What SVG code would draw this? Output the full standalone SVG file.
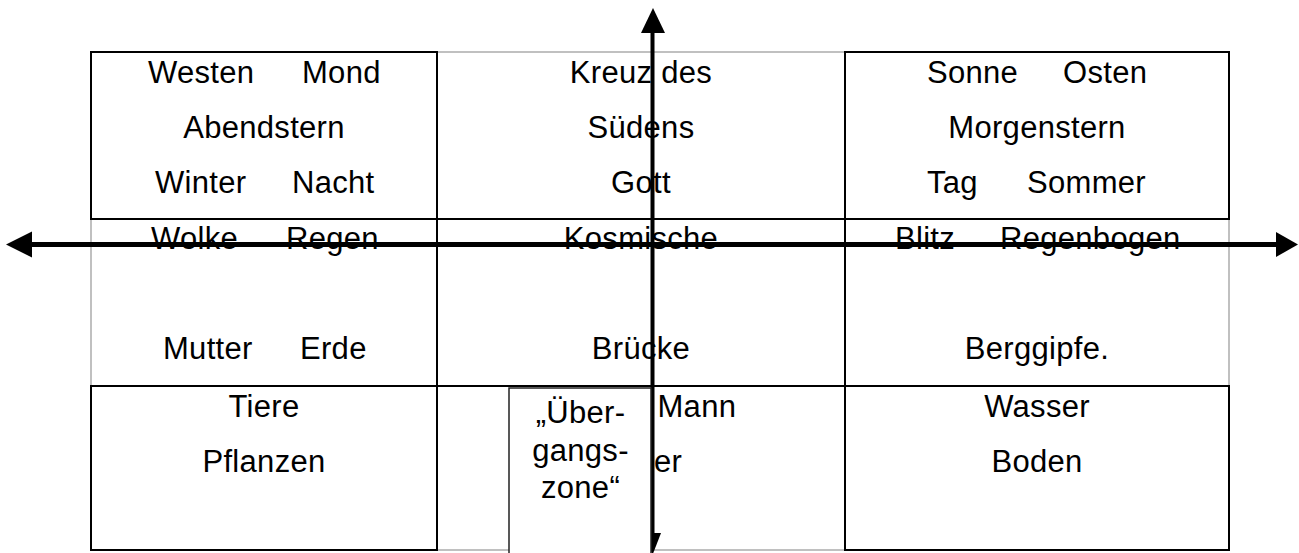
<svg xmlns="http://www.w3.org/2000/svg" width="1299" height="553" viewBox="0 0 1299 553">
<style>
  text { font-family: "Liberation Sans", Arial, sans-serif; font-size: 31px; fill: #000; letter-spacing: 0.3px; }
  .c { text-anchor: middle; }
  .box { fill: none; stroke: #000; stroke-width: 2; }
  .grid { stroke: #000; stroke-width: 2; fill: none; }
  .gray { stroke: #c0c0c0; stroke-width: 2; fill: none; }
  .axis { stroke: #000; stroke-width: 5; fill: none; }
  .vaxis { stroke: #000; stroke-width: 4; fill: none; }
  .head { fill: #000; stroke: none; }
  .zone { fill: #fff; stroke: #222; stroke-width: 1.5; }
</style>
<rect x="0" y="0" width="1299" height="553" fill="#fff"/>

<g id="table-lines">
  <line class="gray" x1="437" y1="52" x2="845" y2="52"/>
  <line class="gray" x1="437" y1="550" x2="845" y2="550"/>
  <line class="gray" x1="91" y1="219" x2="91" y2="386"/>
  <line class="gray" x1="1229" y1="219" x2="1229" y2="386"/>
  <line class="grid" x1="437" y1="52" x2="437" y2="550"/>
  <line class="grid" x1="845" y1="52" x2="845" y2="550"/>
  <line class="grid" x1="91" y1="219" x2="1229" y2="219"/>
  <line class="grid" x1="91" y1="386" x2="1229" y2="386"/>
</g>

<g id="cell-top-left">
  <rect class="box" x="91" y="52" width="346" height="167"/>
  <text y="82.5"><tspan x="148">Westen </tspan><tspan x="302">Mond</tspan></text>
  <text class="c" x="264" y="138">Abendstern</text>
  <text y="193"><tspan x="155">Winter </tspan><tspan x="292">Nacht</tspan></text>
</g>

<g id="cell-top-middle">
  <text class="c" x="641" y="82.5">Kreuz des</text>
  <text class="c" x="641" y="138">Südens</text>
  <text class="c" x="641" y="193">Gott</text>
</g>

<g id="cell-top-right">
  <rect class="box" x="845" y="52" width="384" height="167"/>
  <text y="82.5"><tspan x="927">Sonne </tspan><tspan x="1063">Osten</tspan></text>
  <text class="c" x="1037" y="138">Morgenstern</text>
  <text y="193"><tspan x="927">Tag </tspan><tspan x="1027">Sommer</tspan></text>
</g>

<g id="cell-middle-left">
  <text y="248.5"><tspan x="151">Wolke </tspan><tspan x="286">Regen</tspan></text>
  <text y="359"><tspan x="163">Mutter </tspan><tspan x="300">Erde</tspan></text>
</g>

<g id="cell-middle-middle">
  <text class="c" x="641" y="248.5">Kosmische</text>
  <text class="c" x="641" y="359">Brücke</text>
</g>

<g id="cell-middle-right">
  <text y="248.5"><tspan x="895">Blitz </tspan><tspan x="1000">Regenbogen</tspan></text>
  <text class="c" x="1037" y="359">Berggipfe.</text>
</g>

<g id="cell-bottom-left">
  <rect class="box" x="91" y="386" width="346" height="164"/>
  <text class="c" x="264" y="417">Tiere</text>
  <text class="c" x="264" y="472">Pflanzen</text>
</g>

<g id="cell-bottom-middle">
  <text x="657.5" y="417">Mann</text>
  <text x="654" y="472">er</text>
</g>

<g id="cell-bottom-right">
  <rect class="box" x="845" y="386" width="384" height="164"/>
  <text class="c" x="1037" y="417">Wasser</text>
  <text class="c" x="1037" y="472">Boden</text>
</g>

<g id="connectors">
  <line class="axis" x1="30" y1="244.5" x2="1278" y2="244.5"/>
  <polygon class="head" points="6,244.5 32,231.5 32,257.5"/>
  <polygon class="head" points="1298,244.5 1276,232 1276,257"/>
  <line class="vaxis" x1="652.5" y1="30" x2="652.5" y2="536"/>
  <polygon class="head" points="653,8 641,33 665,33"/>
  <polygon class="head" points="644,533 661,533 652.5,555"/>
</g>

<g id="uebergangszone">
  <rect class="zone" x="509" y="388" width="142" height="170"/>
  <text class="c" x="580.5" y="423">„Über-</text>
  <text class="c" x="580.5" y="461">gangs-</text>
  <text class="c" x="580.5" y="498">zone“</text>
</g>
</svg>
